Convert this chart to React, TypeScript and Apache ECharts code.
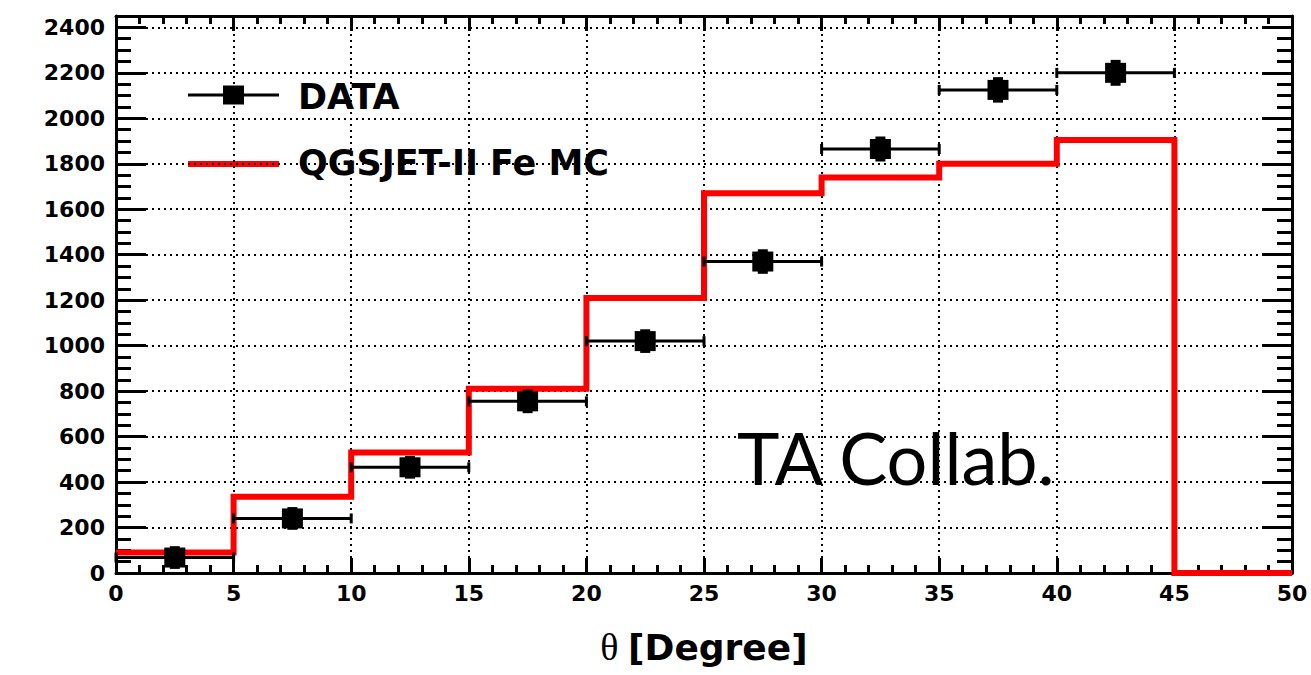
import React, { useEffect, useRef } from "react";
import * as echarts from "echarts";

// Zenith-angle distribution: measured counts vs. iron MC prediction
const binCenters = [2.5, 7.5, 12.5, 17.5, 22.5, 27.5, 32.5, 37.5, 42.5];
const binHalfWidth = 2.5;
const dataCounts = [68, 240, 465, 755, 1020, 1370, 1865, 2125, 2200];
const dataErrors = [50, 50, 50, 52, 52, 54, 55, 56, 57];

const mcEdges = [0, 5, 10, 15, 20, 25, 30, 35, 40, 45, 50];
const mcCounts = [90, 335, 530, 810, 1210, 1670, 1740, 1800, 1905, 0];

const xTicks = { min: 0, max: 50, interval: 5 };
const yMax = 2450;
const yMajor = 200;
const yMinor = 50;

const LABEL_FONT = "DejaVu Sans";

export default function App() {
  const ref = useRef<HTMLDivElement>(null);

  useEffect(() => {
    document.body.style.margin = "0";
    if (!ref.current) return;
    const chart = echarts.init(ref.current, null, { renderer: "svg" });

    const black = "#000";
    const axisLine = { show: true, onZero: false, lineStyle: { color: black, width: 3 } };
    const dotted = { show: true, lineStyle: { color: black, width: 2, type: [2, 4] } };

    const xCommon = {
      type: "value",
      min: xTicks.min,
      max: xTicks.max,
      interval: xTicks.interval,
      axisLine,
      axisTick: { show: true, inside: true, length: 15, lineStyle: { color: black, width: 3 } },
      minorTick: { show: true, splitNumber: 5, length: 8, lineStyle: { color: black, width: 3 } },
    };

    const yCommon = (position: string, interval: number, tickLen: number) => ({
      type: "value",
      min: 0,
      max: yMax,
      interval,
      position,
      axisLine: { ...axisLine, show: interval === yMajor },
      axisTick: { show: true, inside: true, length: tickLen, lineStyle: { color: black, width: 3 } },
      axisLabel: { show: false },
      splitLine: { show: false },
    });

    const mcSteps = mcEdges.map((e, i) => [e, mcCounts[Math.min(i, mcCounts.length - 1)]]);
    const points = binCenters.map((c, i) => [c, dataCounts[i], dataErrors[i]]);

    chart.setOption({
      animation: false,
      backgroundColor: "#fff",
      grid: { left: 116, right: 19, top: 16, bottom: 102, containLabel: false },
      xAxis: [
        {
          ...xCommon,
          position: "bottom",
          splitLine: dotted,
          axisLabel: {
            show: true,
            color: black,
            fontFamily: LABEL_FONT,
            fontWeight: "bold",
            fontSize: 22,
            margin: 9,
          },
          name: "{t|θ}{s| }{b|[Degree]}",
          nameLocation: "middle",
          nameGap: 55,
          nameTextStyle: {
            rich: {
              t: { fontFamily: "Liberation Serif", fontSize: 38, color: black },
              s: { fontFamily: LABEL_FONT, fontSize: 30, color: black },
              b: { fontFamily: LABEL_FONT, fontWeight: "bold", fontSize: 36, color: black },
            },
          },
        },
        { ...xCommon, position: "top", axisLabel: { show: false }, splitLine: { show: false } },
      ],
      yAxis: [
        {
          ...yCommon("left", yMajor, 30),
          splitLine: dotted,
          axisLabel: {
            show: true,
            color: black,
            fontFamily: LABEL_FONT,
            fontWeight: "bold",
            fontSize: 22,
            margin: 11,
            formatter: (v: number) => (v % yMajor === 0 ? String(v) : ""),
          },
        },
        yCommon("left", yMinor, 15),
        yCommon("right", yMajor, 30),
        yCommon("right", yMinor, 15),
      ],
      series: [
        {
          name: "QGSJET-II Fe MC",
          type: "line",
          xAxisIndex: 0,
          yAxisIndex: 0,
          step: "end",
          data: mcSteps,
          symbol: "none",
          clip: false,
          lineStyle: { color: "#ff0000", width: 6, cap: "butt", join: "miter" },
          z: 3,
        },
        {
          name: "DATA",
          type: "custom",
          xAxisIndex: 0,
          yAxisIndex: 0,
          data: points,
          clip: false,
          z: 4,
          renderItem: (params: any, api: any) => {
            const x = api.value(0);
            const y = api.value(1);
            const err = api.value(2);
            const l = api.coord([x - binHalfWidth, y]);
            const r = api.coord([x + binHalfWidth, y]);
            const c = api.coord([x, y]);
            const top = api.coord([x, y + err]);
            const bot = api.coord([x, y - err]);
            const ls = { stroke: black, lineWidth: 3 };
            return {
              type: "group",
              children: [
                { type: "line", shape: { x1: l[0], y1: l[1], x2: r[0], y2: r[1] }, style: ls },
                { type: "line", shape: { x1: l[0], y1: l[1] - 5, x2: l[0], y2: l[1] + 5 }, style: ls },
                { type: "line", shape: { x1: r[0], y1: r[1] - 5, x2: r[0], y2: r[1] + 5 }, style: ls },
                { type: "line", shape: { x1: c[0], y1: top[1], x2: c[0], y2: bot[1] }, style: { stroke: black, lineWidth: 10 } },
                { type: "rect", shape: { x: c[0] - 10.5, y: c[1] - 10, width: 21, height: 20 }, style: { fill: black } },
              ],
            };
          },
        },
      ],
      graphic: [
        { type: "line", shape: { x1: 188, y1: 95, x2: 279, y2: 95 }, style: { stroke: black, lineWidth: 3 } },
        { type: "rect", shape: { x: 223, y: 85.5, width: 21, height: 19 }, style: { fill: black } },
        {
          type: "text",
          x: 298,
          y: 97,
          style: { text: "DATA", fontFamily: LABEL_FONT, fontWeight: "bold", fontSize: 35, fill: black, verticalAlign: "middle" },
        },
        { type: "line", shape: { x1: 188, y1: 164, x2: 279, y2: 164 }, style: { stroke: "#ff0000", lineWidth: 6 } },
        {
          type: "text",
          x: 298,
          y: 163,
          style: { text: "QGSJET-II Fe MC", fontFamily: LABEL_FONT, fontWeight: "bold", fontSize: 35, fill: black, verticalAlign: "middle" },
        },
        {
          type: "text",
          x: 737,
          y: 457,
          style: { text: "TA Collab.", fontFamily: "Lato", fontSize: 72, fill: black, verticalAlign: "middle" },
        },
      ],
    });

    return () => chart.dispose();
  }, []);

  return <div ref={ref} style={{ width: 1311, height: 675 }} />;
}
